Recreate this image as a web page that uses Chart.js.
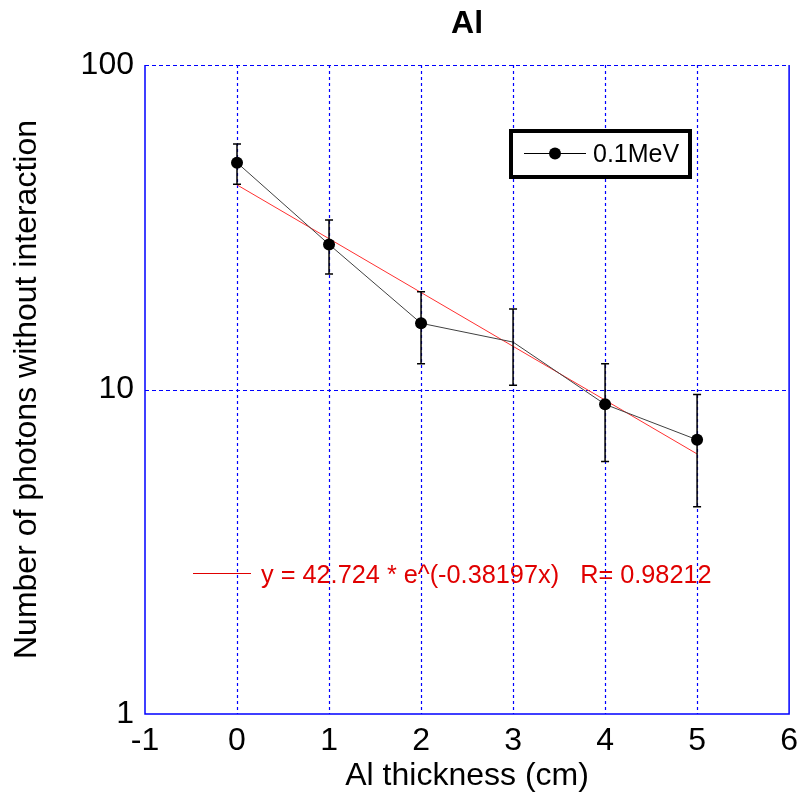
<!DOCTYPE html>
<html>
<head>
<meta charset="utf-8">
<script src="https://cdn.jsdelivr.net/npm/chart.js@4/dist/chart.umd.min.js"></script>
<style>
  html, body { margin: 0; padding: 0; background: #fff; }
  canvas { display: block; }
</style>
</head>
<body>
<canvas id="c" width="806" height="800"></canvas>
<script>
// ---- data ----
const thickness = [0, 1, 2, 3, 4, 5];
const photons   = [50, 28, 16, 14, 9, 7];
const errLow    = [42.9, 22.7, 12.0, 10.3, 6.0, 4.35];
const errHigh   = [57.1, 33.3, 20.0, 17.7, 12.0, 9.65];
const fitX      = [0, 5];
const fitY      = [42.72, 6.33];
const yTickValues = [1, 10, 100];
const seriesLabel = '0.1MeV';
const fitLabel    = 'y = 42.724 * e^(-0.38197x)   R= 0.98212';
const titleText   = 'Al';
const xTitle      = 'Al thickness (cm)';
const yTitle      = 'Number of photons without interaction';

const FONT = "'Liberation Sans', Arial, sans-serif";
const BLUE = '#0000ff';

const gridPlugin = {
  id: 'bluegrid',
  beforeDatasetsDraw(chart) {
    const {ctx, chartArea: a, scales: {x, y}} = chart;
    ctx.save();
    ctx.strokeStyle = BLUE; ctx.lineWidth = 1.2;
    ctx.setLineDash([3, 3]);
    x.ticks.forEach(t => {
      const px = Math.round(x.getPixelForValue(t.value)) + 0.5;
      if (px <= a.left + 1 || px >= a.right - 1) return;
      ctx.beginPath(); ctx.moveTo(px, a.top); ctx.lineTo(px, a.bottom); ctx.stroke();
    });
    ctx.setLineDash([4, 3]);
    y.ticks.forEach(t => {
      const py = Math.round(y.getPixelForValue(t.value)) + 0.5;
      if (py >= a.bottom - 1) return;
      ctx.beginPath(); ctx.moveTo(a.left, py); ctx.lineTo(a.right, py); ctx.stroke();
    });
    ctx.restore();
  }
};

const overlay = {
  id: 'overlay',
  afterDatasetsDraw(chart) {
    const {ctx, chartArea: a, scales: {x, y}} = chart;
    ctx.save();
    // solid frame edges (left, right, bottom)
    ctx.strokeStyle = BLUE; ctx.lineWidth = 1.5; ctx.setLineDash([]);
    ctx.beginPath();
    ctx.moveTo(a.left, a.top); ctx.lineTo(a.left, a.bottom); ctx.lineTo(a.right, a.bottom); ctx.lineTo(a.right, a.top);
    ctx.stroke();
    // error bars
    ctx.strokeStyle = '#000'; ctx.lineWidth = 1.5;
    thickness.forEach((t, i) => {
      const px = x.getPixelForValue(t);
      const y1 = y.getPixelForValue(errLow[i]);
      const y2 = y.getPixelForValue(errHigh[i]);
      ctx.beginPath();
      ctx.moveTo(px, y1); ctx.lineTo(px, y2);
      ctx.moveTo(px - 4, y1); ctx.lineTo(px + 4, y1);
      ctx.moveTo(px - 4, y2); ctx.lineTo(px + 4, y2);
      ctx.stroke();
    });
    // title centred over the plot area
    ctx.fillStyle = '#000';
    ctx.font = 'bold 32px ' + FONT;
    ctx.textAlign = 'center'; ctx.textBaseline = 'middle';
    ctx.fillText(titleText, (a.left + a.right) / 2, 24);
    // legend 1 (boxed)
    ctx.fillStyle = '#fff';
    ctx.fillRect(511, 131, 179, 46);
    ctx.strokeStyle = '#000'; ctx.lineWidth = 4;
    ctx.strokeRect(511, 131, 179, 46);
    ctx.lineWidth = 1;
    ctx.beginPath(); ctx.moveTo(524, 153.5); ctx.lineTo(586, 153.5); ctx.stroke();
    ctx.fillStyle = '#000';
    ctx.beginPath(); ctx.arc(555, 153.5, 6, 0, Math.PI * 2); ctx.fill();
    ctx.font = '25px ' + FONT;
    ctx.textBaseline = 'middle'; ctx.textAlign = 'left';
    ctx.fillText(seriesLabel, 593, 155);
    // legend 2 (fit)
    ctx.strokeStyle = '#e00000'; ctx.lineWidth = 1.2;
    ctx.beginPath(); ctx.moveTo(193, 573.5); ctx.lineTo(251, 573.5); ctx.stroke();
    ctx.fillStyle = '#e00000';
    ctx.font = '25.3px ' + FONT;
    ctx.fillText(fitLabel, 261, 576);
    ctx.restore();
  }
};

new Chart(document.getElementById('c'), {
  type: 'scatter',
  data: {
    datasets: [
      {
        label: seriesLabel,
        data: thickness.map((t, i) => ({x: t, y: photons[i]})),
        showLine: true,
        borderColor: '#404040',
        borderWidth: 1,
        backgroundColor: '#000',
        pointBackgroundColor: '#000',
        pointBorderWidth: 0,
        pointRadius: [6, 6, 6, 0, 6, 6],
        order: 1
      },
      {
        label: 'fit',
        data: fitX.map((t, i) => ({x: t, y: fitY[i]})),
        showLine: true,
        borderColor: '#ff3030',
        borderWidth: 1,
        pointRadius: 0,
        order: 2
      }
    ]
  },
  options: {
    responsive: false,
    animation: false,
    events: [],
    layout: { padding: { left: 0, right: 12, top: 65, bottom: 0 } },
    plugins: {
      legend: { display: false },
      tooltip: { enabled: false },
      title: { display: false }
    },
    scales: {
      x: {
        type: 'linear',
        min: -1, max: 6,
        afterFit(s) { s.height = 86; },
        ticks: { stepSize: 1, color: '#000', font: { family: FONT, size: 32 }, padding: 8 },
        grid: { display: false, drawTicks: false },
        border: { display: false },
        title: {
          display: true, text: xTitle, color: '#000',
          font: { family: FONT, size: 32 },
          padding: { top: 0, bottom: 5 }
        }
      },
      y: {
        type: 'logarithmic',
        min: 1, max: 100,
        afterFit(s) { s.width = 145; },
        afterBuildTicks(s) { s.ticks = yTickValues.map(v => ({value: v})); },
        ticks: {
          color: '#000', font: { family: FONT, size: 32 }, padding: 11,
          callback: v => String(v)
        },
        grid: { display: false, drawTicks: false },
        border: { display: false },
        title: {
          display: true, text: yTitle, color: '#000',
          font: { family: FONT, size: 32 },
          padding: { top: 8, bottom: 0 }
        }
      }
    }
  },
  plugins: [gridPlugin, overlay]
});
</script>
</body>
</html>
